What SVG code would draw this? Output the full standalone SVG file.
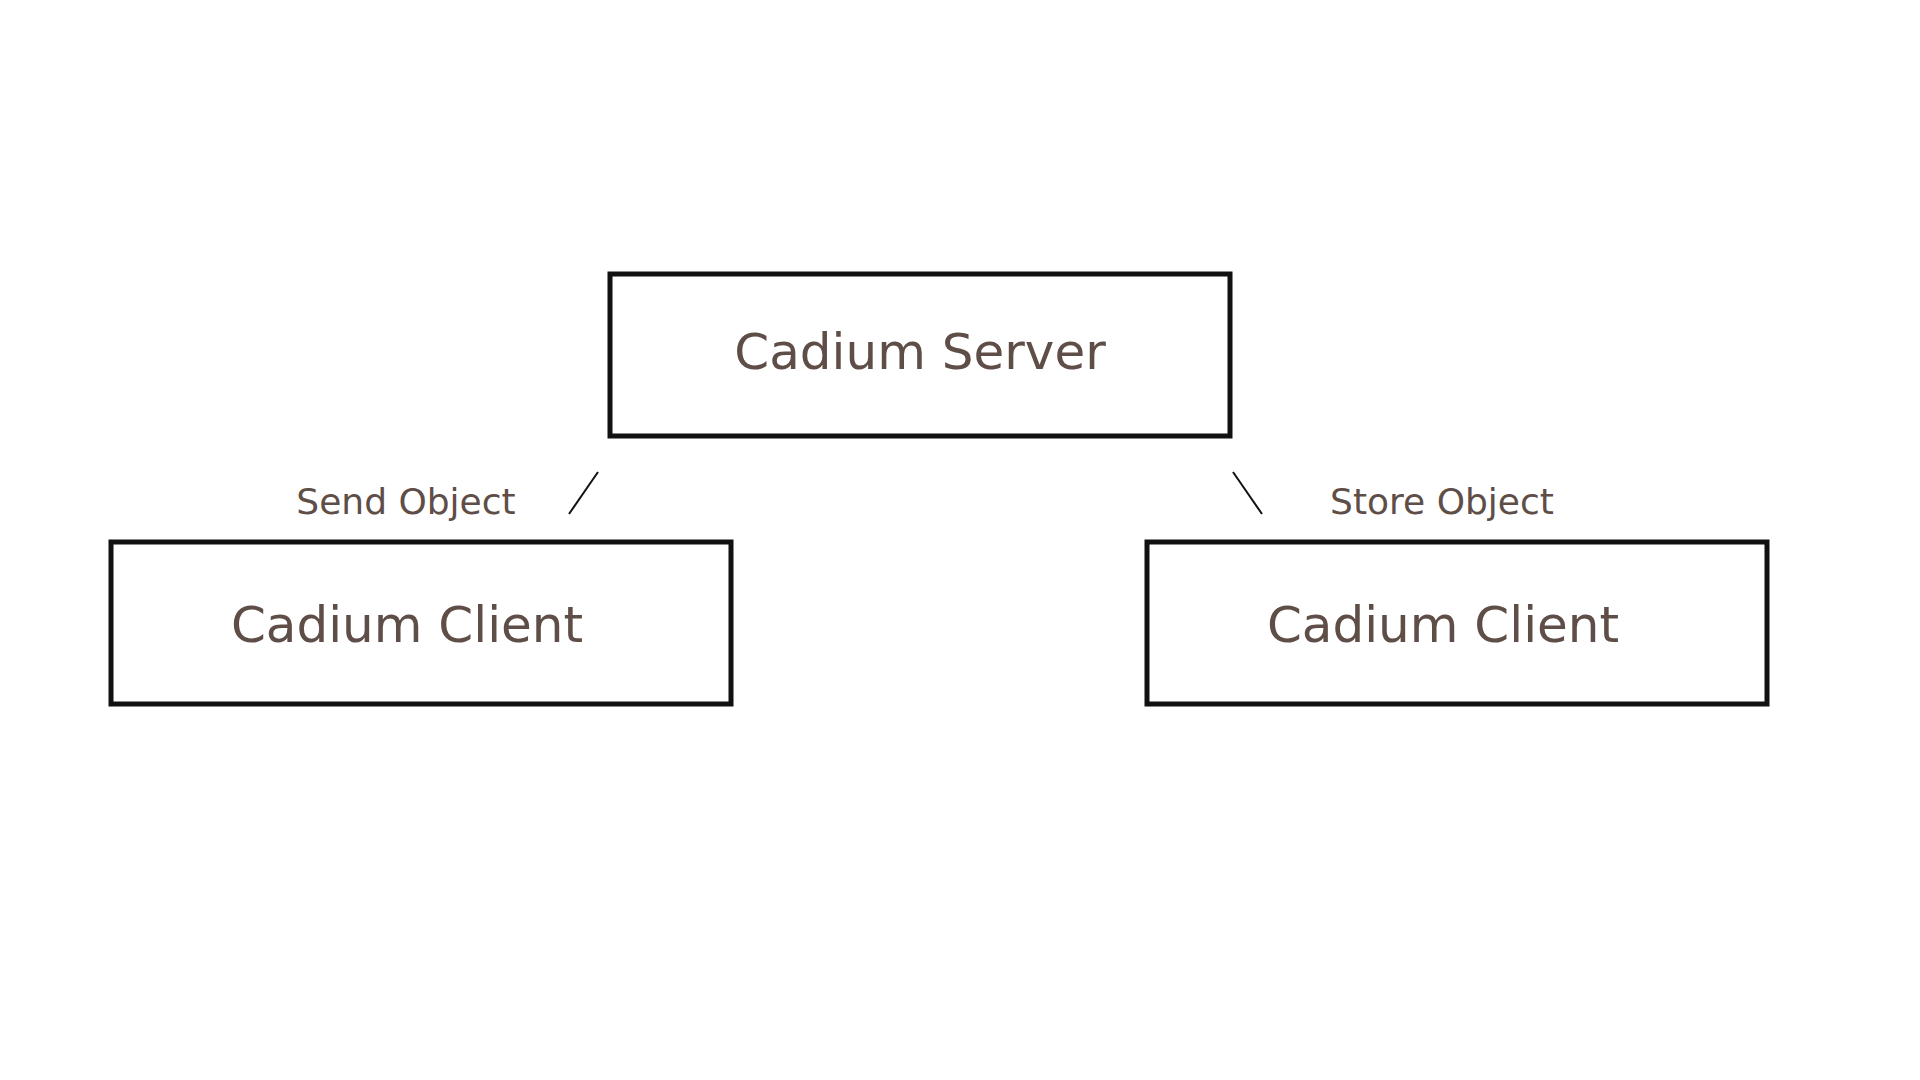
<svg xmlns="http://www.w3.org/2000/svg" width="1920" height="1080" viewBox="0 0 1920 1080">
<style>
.box{fill:#fff;stroke:#111;stroke-width:5}
.t{font-family:"DejaVu Sans",Verdana,sans-serif;fill:#5e4e47;text-anchor:middle}
.big{font-size:50px}
.lbl{font-size:36px}
.conn{stroke:#111;stroke-width:2;fill:none}
</style>
<rect width="1920" height="1080" fill="#fff"/>
<g id="connectors">
<line class="conn" x1="598" y1="472" x2="569" y2="514"/>
<line class="conn" x1="1233" y1="472" x2="1262" y2="514"/>
<text class="t lbl" x="406" y="514">Send Object</text>
<text class="t lbl" x="1442" y="514">Store Object</text>
</g>
<g id="server">
<rect class="box" x="610" y="274" width="620" height="162"/>
<text class="t big" x="920" y="369">Cadium Server</text>
</g>
<g id="client-left">
<rect class="box" x="111" y="542" width="620" height="162"/>
<text class="t big" x="407" y="642">Cadium Client</text>
</g>
<g id="client-right">
<rect class="box" x="1147" y="542" width="620" height="162"/>
<text class="t big" x="1443" y="642">Cadium Client</text>
</g>
</svg>
